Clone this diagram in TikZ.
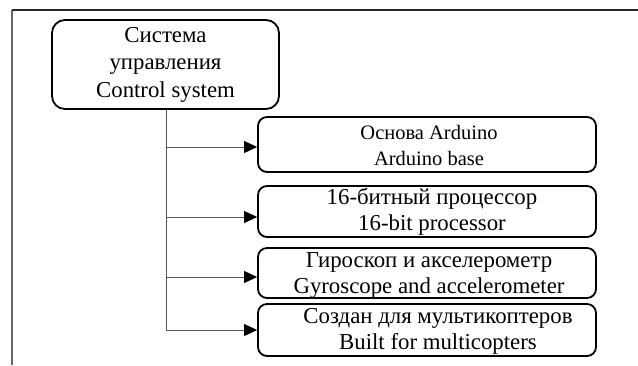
\documentclass[tikz,border=0pt]{standalone}
\usepackage{fontspec}
\setmainfont{Liberation Serif}
\usetikzlibrary{arrows.meta}
\begin{document}
\begin{tikzpicture}[x=1pt,y=-1pt,
  mainbox/.style={draw=black,line width=1.8pt,rounded corners=13pt,
    minimum width=227pt,minimum height=89pt,inner sep=0pt,
    align=center,font=\fontsize{22.8}{27.5}\selectfont},
  itembox/.style={draw=black,line width=1.8pt,rounded corners=9pt,
    minimum width=338pt,inner sep=0pt},
  itemtext/.style={align=center,inner sep=0pt,font=\fontsize{22.8}{26.5}\selectfont},
  trunk/.style={draw=black!65,line width=0.9pt},
  feed/.style={draw=black!65,line width=0.9pt,
    -{Triangle[length=13pt,width=12pt,fill=black,color=black]}},
  frame/.style={draw=black!60,line width=1.4pt}]
  \useasboundingbox (0,0) rectangle (638,365);
  % page frame (left and top edges)
  \coordinate (fl) at (12,365);
  \coordinate (fc) at (12,10);
  \coordinate (fr) at (638,10);
  \draw[frame] (fl) -- (fc);
  \draw[draw=black!85,line width=1.2pt] (fc) -- (fr);

  % root block
  \node[mainbox] (main) at (165.5,64.5)
    {Система\\управления\\Control system};

  % subsystem blocks
  \node[itembox,minimum height=55pt] (b1) at (427,144.5) {};
  \node[itemtext,font=\fontsize{20.5}{26}\selectfont] (l1) at (429,145)
    {Основа Arduino\\Arduino base};
  \node[itembox,minimum height=51pt] (b2) at (427,211.5) {};
  \node[itemtext] (l2) at (432,212)
    {16-битный процессор\\16-bit processor};
  \node[itembox,minimum height=50pt] (b3) at (427,273) {};
  \node[itemtext] (l3) at (429,275.5)
    {Гироскоп и акселерометр\\Gyroscope and accelerometer};
  \node[itembox,minimum height=52pt] (b4) at (427,330) {};
  \node[itemtext] (l4) at (438,331.5)
    {Создан для мультикоптеров\\Built for multicopters};

  % branch points on the trunk
  \coordinate (t1) at (166,147);
  \coordinate (t2) at (166,217);
  \coordinate (t3) at (166,277);
  \coordinate (t4) at (166,330);

  \draw[trunk] (main.south -| t1) -- (t4);
  \draw[feed] (t1) -- (t1 -| b1.west);
  \draw[feed] (t2) -- (t2 -| b2.west);
  \draw[feed] (t3) -- (t3 -| b3.west);
  \draw[feed] (t4) -- (t4 -| b4.west);
\end{tikzpicture}
\end{document}
